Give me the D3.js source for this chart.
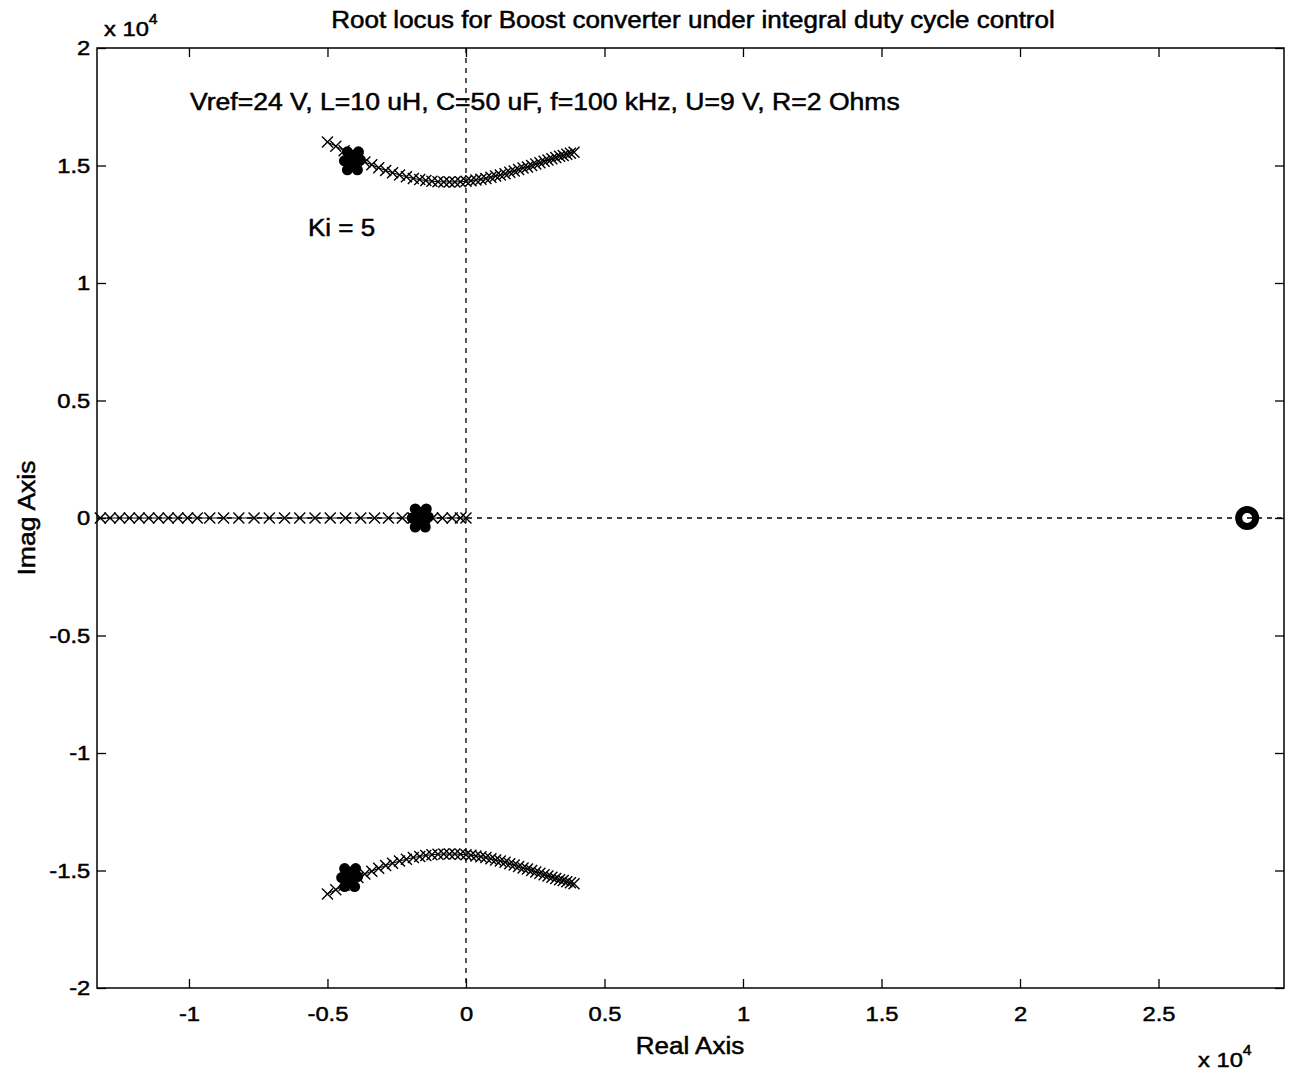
<!DOCTYPE html>
<html><head><meta charset="utf-8">
<script src="https://cdn.jsdelivr.net/npm/d3@7"></script>
<style>
body{margin:0;background:#fff;}
text{font-family:"Liberation Sans",Arial,sans-serif;fill:#000;}
</style></head><body>
<svg id="chart" width="1294" height="1074"></svg>
<script>
// ---- data (real & imag parts in units of 1e4) ----
const xTicks = [-1, -0.5, 0, 0.5, 1, 1.5, 2, 2.5];
const yTicks = [-2, -1.5, -1, -0.5, 0, 0.5, 1, 1.5, 2];
const xTickLabels = ["-1","-0.5","0","0.5","1","1.5","2","2.5"];
const yTickLabels = ["-2","-1.5","-1","-0.5","0","0.5","1","1.5","2"];

// upper complex branch (lower branch is its conjugate)
const branchRe = [-0.50,-0.47,-0.44,-0.415,-0.39,-0.365,-0.34,-0.315,-0.29,-0.265,-0.24,-0.215,-0.19,-0.167,-0.145,-0.123,-0.101,-0.08,-0.06,-0.04,-0.02,0.00,0.018,0.036,0.054,0.072,0.09,0.107,0.124,0.141,0.158,0.174,0.19,0.206,0.222,0.237,0.252,0.267,0.282,0.296,0.31,0.324,0.338,0.351,0.364,0.377,0.39];
const branchIm = [1.600,1.582,1.563,1.546,1.530,1.515,1.503,1.490,1.479,1.469,1.460,1.452,1.445,1.440,1.436,1.433,1.431,1.430,1.430,1.430,1.431,1.433,1.435,1.438,1.441,1.445,1.450,1.455,1.460,1.465,1.471,1.477,1.483,1.489,1.494,1.500,1.506,1.512,1.518,1.523,1.529,1.534,1.539,1.543,1.548,1.552,1.556];

// real-axis branch
const realAxisRe = [-1.32,-1.285,-1.25,-1.215,-1.18,-1.145,-1.11,-1.075,-1.04,-1.005,-0.97,-0.925,-0.875,-0.82,-0.765,-0.71,-0.655,-0.60,-0.545,-0.49,-0.435,-0.38,-0.33,-0.28,-0.23,-0.19,-0.15,-0.12,-0.085,-0.05,-0.02,0.0];

// closed-loop poles at Ki = 5
const gainRe = [-0.41, -0.42, -0.165];
const gainIm = [1.52, -1.53, 0];

// open-loop zero
const zeroRe = [2.82];
const zeroIm = [0];

const titleText = "Root locus for Boost converter under integral duty cycle control";
const noteText = "Vref=24 V, L=10 uH, C=50 uF, f=100 kHz, U=9 V, R=2 Ohms";
const kiText = "Ki = 5";

// ---- layout ----
const svg = d3.select("#chart");
const L = 97, R = 1284, T = 48, B = 988;
const x = d3.scaleLinear().domain([-1.332, 2.953]).range([L, R]);
const y = d3.scaleLinear().domain([-2, 2]).range([B, T]);
const SX = 1.13; // horizontal glyph stretch of the reference font

// dashed axes through origin
svg.append("line").attr("x1", x(0)).attr("x2", x(0)).attr("y1", T).attr("y2", B)
  .attr("stroke", "#000").attr("stroke-width", 1.3).attr("stroke-dasharray", "5,5");
svg.append("line").attr("x1", L).attr("x2", R).attr("y1", y(0)).attr("y2", y(0))
  .attr("stroke", "#000").attr("stroke-width", 1.3).attr("stroke-dasharray", "5,5");

// frame
svg.append("rect").attr("x", L).attr("y", T).attr("width", R - L).attr("height", B - T)
  .attr("fill", "none").attr("stroke", "#000").attr("stroke-width", 1.5);

// axes (ticks inward)
const tl = 9;
const xb = svg.append("g").attr("transform", `translate(0,${B})`)
  .call(d3.axisBottom(x).tickValues(xTicks).tickSize(-tl).tickPadding(15)
    .tickFormat((d, i) => xTickLabels[i]));
const xt = svg.append("g").attr("transform", `translate(0,${T})`)
  .call(d3.axisTop(x).tickValues(xTicks).tickSize(-tl).tickFormat(""));
const yl = svg.append("g").attr("transform", `translate(${L},0)`)
  .call(d3.axisLeft(y).tickValues(yTicks).tickSize(-tl).tickPadding(6)
    .tickFormat((d, i) => yTickLabels[i]));
const yr = svg.append("g").attr("transform", `translate(${R},0)`)
  .call(d3.axisRight(y).tickValues(yTicks).tickSize(-tl).tickFormat(""));
[xb, xt, yl, yr].forEach(g => {
  g.select(".domain").remove();
  g.selectAll(".tick line").attr("stroke", "#000").attr("stroke-width", 1.3);
  g.selectAll("text").attr("font-size", 21).attr("font-family", "Liberation Sans, Arial, sans-serif")
    .attr("fill", "#000").attr("stroke", "#000").attr("stroke-width", 0.5)
    .attr("transform", `scale(${SX},1)`);
});
xb.selectAll("text").attr("dy", "0.85em");

// locus branches
const upper = branchRe.map((r, i) => [r, branchIm[i]]);
const lower = branchRe.map((r, i) => [r, -branchIm[i]]);
const realPts = realAxisRe.map(r => [r, 0]);
const line = d3.line().x(d => x(d[0])).y(d => y(d[1]));
const ms = 5.5;
function drawBranch(pts) {
  svg.append("path").attr("d", line(pts)).attr("fill", "none").attr("stroke", "#000").attr("stroke-width", 1);
  svg.append("g").selectAll("path").data(pts).join("path")
    .attr("d", d => {
      const cx = x(d[0]), cy = y(d[1]);
      return `M${cx - ms},${cy - ms}L${cx + ms},${cy + ms}M${cx - ms},${cy + ms}L${cx + ms},${cy - ms}`;
    })
    .attr("stroke", "#000").attr("stroke-width", 1.4).attr("fill", "none");
}
drawBranch(upper);
drawBranch(lower);
drawBranch(realPts);

// Ki=5 pole blobs
const blobs = svg.append("g");
gainRe.forEach((r, i) => {
  const cx = x(r), cy = y(gainIm[i]);
  const g = blobs.append("g").attr("transform", `translate(${cx},${cy})`);
  g.append("ellipse").attr("rx", 8).attr("ry", 11).attr("fill", "#000");
  [[-5, -9], [6, -9], [-5, 9], [5, 9], [-8, 0], [8, -1]].forEach(o => {
    g.append("circle").attr("cx", o[0]).attr("cy", o[1]).attr("r", 5.5).attr("fill", "#000");
  });
});

// zero
svg.append("g").selectAll("circle").data(zeroRe).join("circle")
  .attr("cx", d => x(d)).attr("cy", (d, i) => y(zeroIm[i]))
  .attr("r", 8.5).attr("fill", "none").attr("stroke", "#000").attr("stroke-width", 7);

// texts
function txt(t, px, py, opts = {}) {
  const rot = opts.rot || 0;
  return svg.append("text").attr("x", 0).attr("y", 0).text(t)
    .attr("transform", `translate(${px},${py}) rotate(${rot}) scale(${SX},1)`)
    .attr("font-size", opts.fs || 23).attr("text-anchor", opts.anchor || "start")
    .attr("stroke", "#000").attr("stroke-width", 0.5);
}
txt(titleText, 693, 28, { anchor: "middle", fs: 23 });
txt(noteText, 190, 110, { fs: 23.5 });
txt(kiText, 308, 236, { fs: 23 });
txt("Real Axis", 690, 1054, { anchor: "middle", fs: 23 });
txt("Imag Axis", 35, 518, { anchor: "middle", fs: 23.5, rot: -90 });

// x10^4 multipliers
function mult(px, py) {
  const t = svg.append("text").attr("x", 0).attr("y", 0).attr("font-size", 21)
    .attr("transform", `translate(${px},${py}) scale(${SX},1)`)
    .attr("stroke", "#000").attr("stroke-width", 0.5);
  t.append("tspan").text("x 10");
  t.append("tspan").text("4").attr("font-size", 14).attr("dy", -12);
}
mult(104, 36);
mult(1198, 1067);
</script>
</body></html>
